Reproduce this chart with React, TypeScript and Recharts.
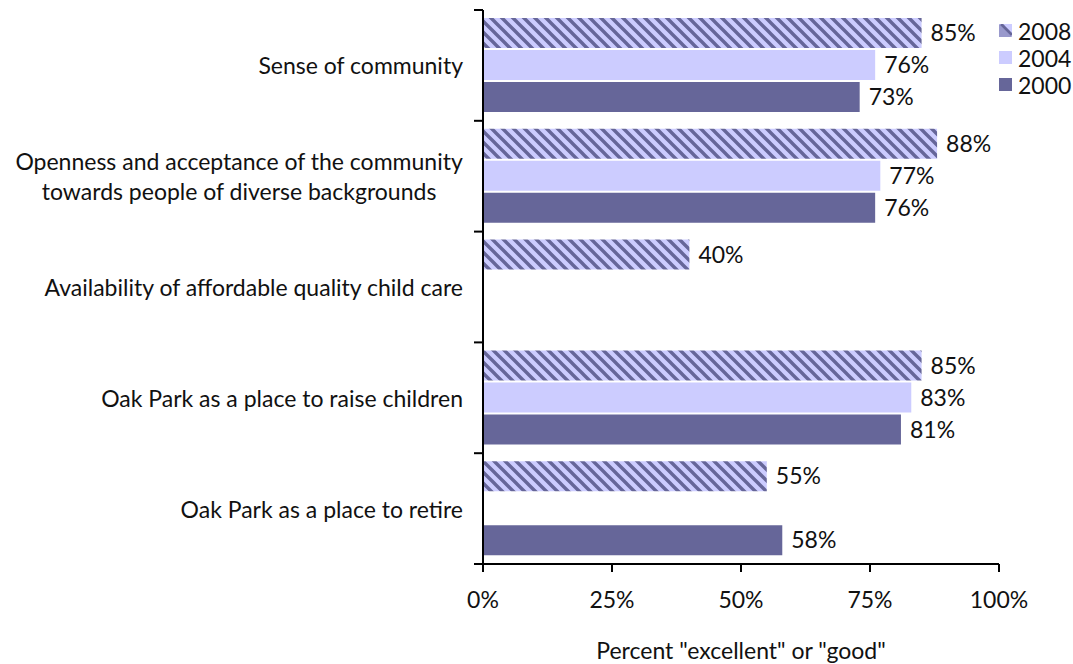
import React from 'react';
import { BarChart, Bar, XAxis, YAxis, LabelList, Legend } from 'recharts';

const categories = [
  'Sense of community',
  'Openness and acceptance of the community\ntowards people of diverse backgrounds',
  'Availability of affordable quality child care',
  'Oak Park as a place to raise children',
  'Oak Park as a place to retire',
];
const values2008 = [85, 88, 40, 85, 55];
const values2004: (number | null)[] = [76, 77, null, 83, null];
const values2000: (number | null)[] = [73, 76, null, 81, 58];
const xTicks = [0, 25, 50, 75, 100];
const seriesNames = ['2008', '2004', '2000'];

const data = categories.map((c, i) => ({
  category: c,
  y2008: values2008[i],
  y2004: values2004[i],
  y2000: values2000[i],
}));

const FONT = 'Lato, "Open Sans", sans-serif';
const FS = 23;
const DARK = '#666699';
const LIGHT = '#CCCCFF';
const PLOT_TOP = 10;
const PLOT_BOTTOM = 564;
const BAND = (PLOT_BOTTOM - PLOT_TOP) / categories.length;

let ctx: CanvasRenderingContext2D | null = null;
function measure(t: string) {
  if (!ctx) {
    const c = document.createElement('canvas');
    ctx = c.getContext('2d');
  }
  if (!ctx) return t.length * FS * 0.5;
  ctx.font = `${FS}px Lato`;
  return ctx.measureText(t).width;
}

const CategoryTick = (props: any) => {
  const { x, y, payload, index } = props;
  const lines: string[] = String(payload.value).split('\n');
  const right = x - 20;
  const maxW = Math.max(...lines.map(measure));
  const cx = right - maxW / 2;
  const lh = 30;
  const y0 = y - ((lines.length - 1) * lh) / 2;
  return (
    <g>
      <line x1={x - 9} x2={x} y1={y - BAND / 2} y2={y - BAND / 2} stroke="#000" strokeWidth={2} />
      {index === categories.length - 1 && (
        <line x1={x - 9} x2={x} y1={y + BAND / 2} y2={y + BAND / 2} stroke="#000" strokeWidth={2} />
      )}
      {lines.map((l, i) => (
        <text
          key={i}
          x={lines.length > 1 ? cx : right}
          y={y0 + i * lh}
          textAnchor={lines.length > 1 ? 'middle' : 'end'}
          dominantBaseline="central"
          fontFamily={FONT}
          fontSize={FS}
          fill="#111"
        >
          {l}
        </text>
      ))}
    </g>
  );
};

const fills = ['url(#hatch)', LIGHT, DARK];

const LegendContent = () => (
  <div style={{ fontFamily: FONT, fontSize: FS, color: '#111' }}>
    {seriesNames.map((n, i) => (
      <div key={n} style={{ display: 'flex', alignItems: 'center', height: 27 }}>
        <svg width={13} height={13} style={{ marginRight: 6, flexShrink: 0 }}>
          {i === 0 ? (
            <g>
              <rect width={13} height={13} fill={LIGHT} />
              <path d="M0,0 L13,13 L0,13 Z" fill={DARK} opacity={0.5} />
              <path d="M2,0 L13,11" stroke={DARK} strokeWidth={3} />
            </g>
          ) : (
            <rect width={13} height={13} fill={fills[i]} />
          )}
        </svg>
        <span>{n}</span>
      </div>
    ))}
  </div>
);

const pct = (v: any) => (v === null || v === undefined ? '' : `${v}%`);
const labelStyle = { fontFamily: FONT, fontSize: FS, fill: '#111' };

export default function App() {
  return (
    <div style={{ position: 'absolute', left: 0, top: 0, background: '#fff' }}>
      <BarChart
        width={1073}
        height={664}
        data={data}
        layout="vertical"
        margin={{ top: PLOT_TOP, right: 0, bottom: 0, left: 0 }}
        barCategoryGap="7.2%"
        barGap={2}
      >
        <defs>
          <pattern id="hatch" patternUnits="userSpaceOnUse" width={11} height={11}>
            <rect width={11} height={11} fill={LIGHT} />
            <path d="M-5.5,-5.5 L16.5,16.5 M-5.5,5.5 L5.5,16.5 M5.5,-5.5 L16.5,5.5" stroke={DARK} strokeWidth={3.4} />
          </pattern>
        </defs>
        <XAxis
          type="number"
          domain={[0, 100]}
          ticks={xTicks}
          tickFormatter={(v: number) => `${v}%`}
          height={100}
          tickSize={8}
          tickMargin={20}
          axisLine={{ stroke: '#000', strokeWidth: 2 }}
          tickLine={{ stroke: '#000', strokeWidth: 2 }}
          tick={{ fontFamily: FONT, fontSize: FS, fill: '#111' }}
          label={{
            value: 'Percent "excellent" or "good"',
            position: 'insideBottom',
            offset: 5,
            style: { fontFamily: FONT, fontSize: FS, fill: '#111' },
          }}
        />
        <YAxis
          type="category"
          dataKey="category"
          width={483}
          tickSize={0}
          tickMargin={0}
          tickLine={false}
          axisLine={{ stroke: '#000', strokeWidth: 2 }}
          tick={<CategoryTick />}
          interval={0}
        />
        <Legend
          layout="vertical"
          verticalAlign="top"
          align="right"
          content={<LegendContent />}
          wrapperStyle={{ position: 'absolute', left: 999, top: 17, width: 74 }}
        />
        <Bar dataKey="y2008" name="2008" fill="url(#hatch)" isAnimationActive={false}>
          <LabelList dataKey="y2008" position="right" offset={9} formatter={pct} style={labelStyle} />
        </Bar>
        <Bar dataKey="y2004" name="2004" fill={LIGHT} isAnimationActive={false}>
          <LabelList dataKey="y2004" position="right" offset={9} formatter={pct} style={labelStyle} />
        </Bar>
        <Bar dataKey="y2000" name="2000" fill={DARK} isAnimationActive={false}>
          <LabelList dataKey="y2000" position="right" offset={9} formatter={pct} style={labelStyle} />
        </Bar>
      </BarChart>
    </div>
  );
}
